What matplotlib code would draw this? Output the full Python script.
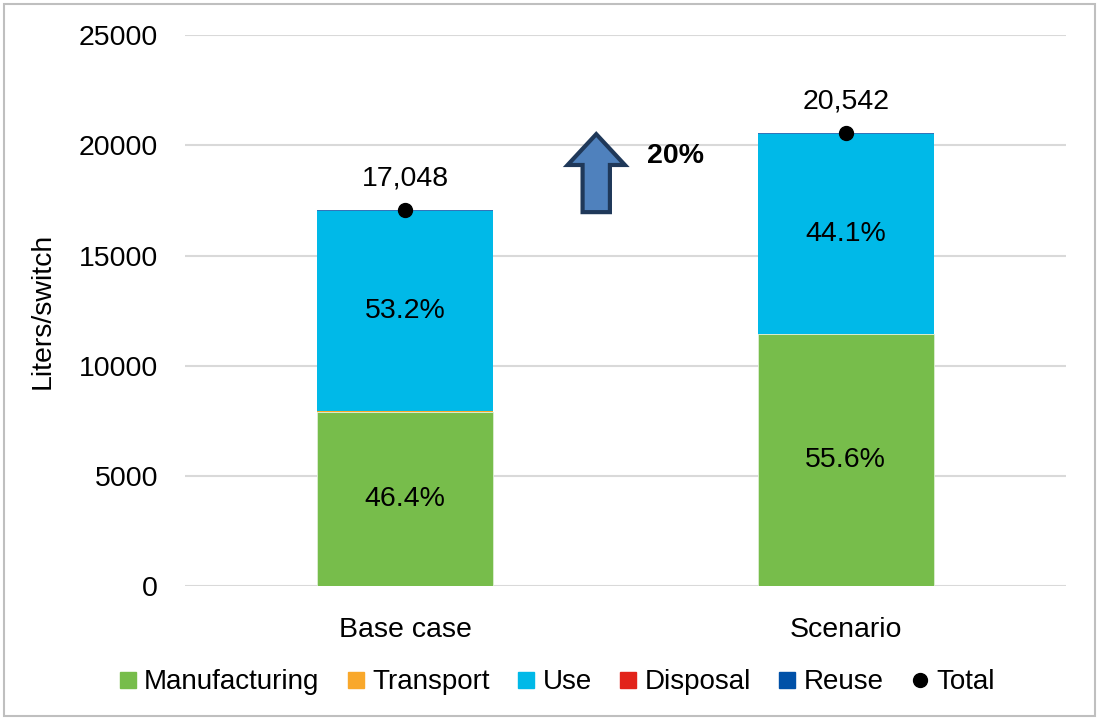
import matplotlib
matplotlib.use("Agg")
import matplotlib.pyplot as plt
from matplotlib.patches import FancyArrow, Rectangle
from matplotlib.lines import Line2D
import numpy as np

plt.rcParams['font.family'] = ['Liberation Sans', 'DejaVu Sans']

categories = ["Base case", "Scenario"]
totals = [17048, 20542]
manufacturing = [7910, 11421]
transport = [35, 30]
use = [9070, 9059]
disposal = [-25, -25]
reuse = [58, 57]
pct_manufacturing = ["46.4%", "55.6%"]
pct_use = ["53.2%", "44.1%"]
total_labels = ["17,048", "20,542"]
change_label = "20%"

colors = {
    "Manufacturing": "#77BD4B",
    "Transport": "#F9A82B",
    "Use": "#00B9E8",
    "Disposal": "#E2231A",
    "Reuse": "#0051A8",
}

FS = 20.5

fig = plt.figure(figsize=(10.99, 7.19), dpi=100)
ax = fig.add_axes([0.168, 0.185, 0.802, 0.766])

x = np.arange(len(categories))
w = 0.4
manufacturing = np.array(manufacturing)
transport = np.array(transport)
use = np.array(use)
reuse = np.array(reuse)

ax.bar(x, manufacturing, w, color=colors["Manufacturing"], edgecolor="#DDEED3", linewidth=0.6, zorder=2)
ax.bar(x, transport, w, bottom=manufacturing, color=colors["Transport"], linewidth=0, zorder=2)
ax.bar(x, use, w, bottom=manufacturing + transport, color=colors["Use"], linewidth=0, zorder=2)
ax.bar(x, disposal, w, color=colors["Disposal"], linewidth=0, zorder=2, alpha=0.6)
ax.bar(x, reuse, w, bottom=manufacturing + transport + use, color=colors["Reuse"], linewidth=0, zorder=2, alpha=0.8)
ax.plot(x, totals, 'o', color='black', markersize=10, zorder=4, linestyle='none')

for i in range(len(categories)):
    ax.text(x[i], manufacturing[i] / 2, pct_manufacturing[i], ha='center', va='center', fontsize=FS)
    ax.text(x[i], manufacturing[i] + transport[i] + use[i] / 2, pct_use[i], ha='center', va='center', fontsize=FS)
    ax.annotate(total_labels[i], (x[i], totals[i]), xytext=(0, 32), textcoords='offset pixels',
                ha='center', va='center', fontsize=FS)

arrow = FancyArrow(0.434, 16970, 0, 3540, width=0.062, head_width=0.13, head_length=1400,
                   length_includes_head=True, facecolor="#4F81BD", edgecolor="#1F3859",
                   linewidth=3, zorder=5)
ax.add_patch(arrow)
ax.text(0.614, 19510, change_label, ha='center', va='center', fontsize=FS, fontweight='bold')

ax.set_xlim(-0.5, 1.5)
ax.set_ylim(0, 25000)
ax.set_yticks(np.arange(0, 25001, 5000))
ax.set_xticks(x)
ax.set_xticklabels(categories, fontsize=FS)
ax.tick_params(axis='y', labelsize=FS, length=0, pad=19)
ax.tick_params(axis='x', length=0, pad=22)
ax.grid(axis='y', color='#D9D9D9', linewidth=1.5, zorder=0)
ax.set_axisbelow(True)
for s in ax.spines.values():
    s.set_visible(False)
ax.set_ylabel("Liters/switch", fontsize=FS, labelpad=17)

handles = [Line2D([0], [0], marker='s', color=colors[k], linestyle='none', markersize=12, label=k)
           for k in ["Manufacturing", "Transport", "Use", "Disposal", "Reuse"]]
handles.append(Line2D([0], [0], marker='o', color='black', linestyle='none', markersize=10, label='Total'))
fig.legend(handles=handles, loc='center', bbox_to_anchor=(0.507, 0.051), ncol=6, frameon=False,
           fontsize=20, handlelength=0.6, handletextpad=0.3, columnspacing=1.0)

fig.add_artist(Rectangle((0.004, 0.004), 0.992, 0.99, transform=fig.transFigure, fill=False,
                         edgecolor='#BFBFBF', linewidth=1.5))

fig.savefig("out.png", dpi=100)
